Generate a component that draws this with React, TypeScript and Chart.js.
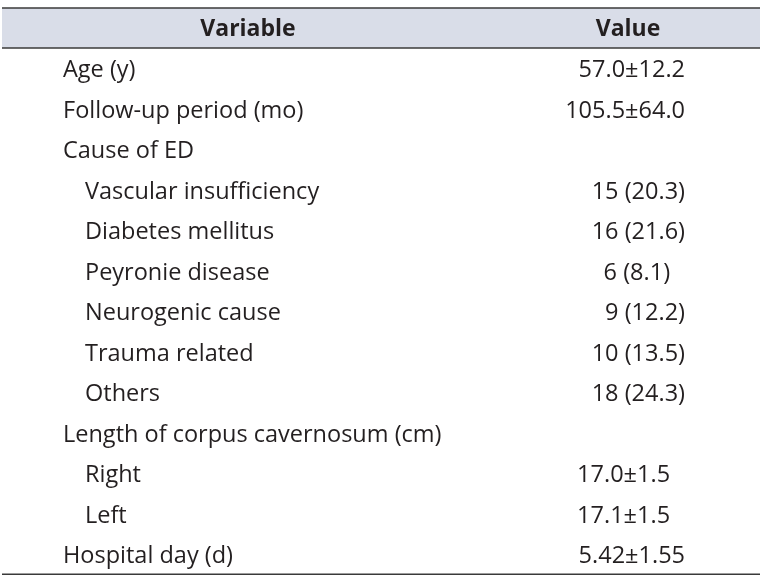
import React, { useEffect, useRef } from "react";
import { Chart, registerables } from "chart.js";

Chart.register(...registerables);

const headers = ["Variable", "Value"];
const variables = [
  "Age (y)",
  "Follow-up period (mo)",
  "Cause of ED",
  "Vascular insufficiency",
  "Diabetes mellitus",
  "Peyronie disease",
  "Neurogenic cause",
  "Trauma related",
  "Others",
  "Length of corpus cavernosum (cm)",
  "Right",
  "Left",
  "Hospital day (d)",
];
const indentLevels = [0, 0, 0, 1, 1, 1, 1, 1, 1, 0, 1, 1, 0];
const values = [
  "57.0±12.2",
  "105.5±64.0",
  "",
  "15 (20.3)",
  "16 (21.6)",
  "6 (8.1)",
  "9 (12.2)",
  "10 (13.5)",
  "18 (24.3)",
  "",
  "17.0±1.5",
  "17.1±1.5",
  "5.42±1.55",
];
// number of trailing digit-widths used to align a value with its neighbours
const trailingDigits = [0, 0, 0, 0, 0, 1, 0, 0, 0, 0, 1, 1, 0];

const FONT = '"Open Sans", "Noto Sans", sans-serif';
const TEXT = "#231f20";
const RULE = "#3a3a3a";
const HEAD_BG = "#d9dde8";

const tablePlugin = {
  id: "tablePlugin",
  afterDraw(chart: any) {
    const { ctx, chartArea } = chart;
    const yScale = chart.scales.y;
    const left = chartArea.left;
    const right = chartArea.right;
    ctx.save();
    // header band
    ctx.fillStyle = HEAD_BG;
    ctx.fillRect(left, 8, right - left, 40);
    ctx.strokeStyle = RULE;
    ctx.lineWidth = 1.6;
    const hline = (y: number) => {
      ctx.beginPath();
      ctx.moveTo(left, y);
      ctx.lineTo(right, y);
      ctx.stroke();
    };
    hline(8);
    hline(48);
    hline(chartArea.bottom);

    ctx.fillStyle = TEXT;
    ctx.textBaseline = "alphabetic";
    ctx.font = `bold 23px ${FONT}`;
    ctx.textAlign = "center";
    ctx.fillText(headers[0], 248, 36);
    ctx.fillText(headers[1], 628, 36);

    ctx.font = `23.5px ${FONT}`;
    const digitW = ctx.measureText("0").width;
    variables.forEach((label, i) => {
      const y = yScale.getPixelForValue(i) + 9;
      ctx.textAlign = "left";
      ctx.fillText(label, 63 + indentLevels[i] * 22, y);
      if (values[i]) {
        ctx.textAlign = "right";
        ctx.fillText(values[i], 685 - trailingDigits[i] * (digitW + 1.5), y);
      }
    });
    ctx.restore();
  },
};

export default function App() {
  const ref = useRef<HTMLCanvasElement>(null);
  useEffect(() => {
    if (!ref.current) return;
    const chart = new Chart(ref.current, {
      type: "bar",
      data: {
        labels: variables,
        datasets: [{ data: variables.map(() => 0), backgroundColor: "transparent" }],
      },
      options: {
        indexAxis: "y",
        animation: false,
        responsive: false,
        events: [],
        layout: { padding: { left: 2, right: 6, top: 47.75, bottom: 5.75 } },
        plugins: { legend: { display: false }, tooltip: { enabled: false } },
        scales: {
          x: { display: false, min: 0, max: 1 },
          y: { display: false, type: "category", offset: true },
        },
      },
      plugins: [tablePlugin],
    });
    return () => chart.destroy();
  }, []);
  return (
    <div style={{ position: "absolute", left: 0, top: 0, width: 766, height: 580, background: "#fff" }}>
      <canvas ref={ref} width={766} height={580} style={{ display: "block" }} />
    </div>
  );
}
